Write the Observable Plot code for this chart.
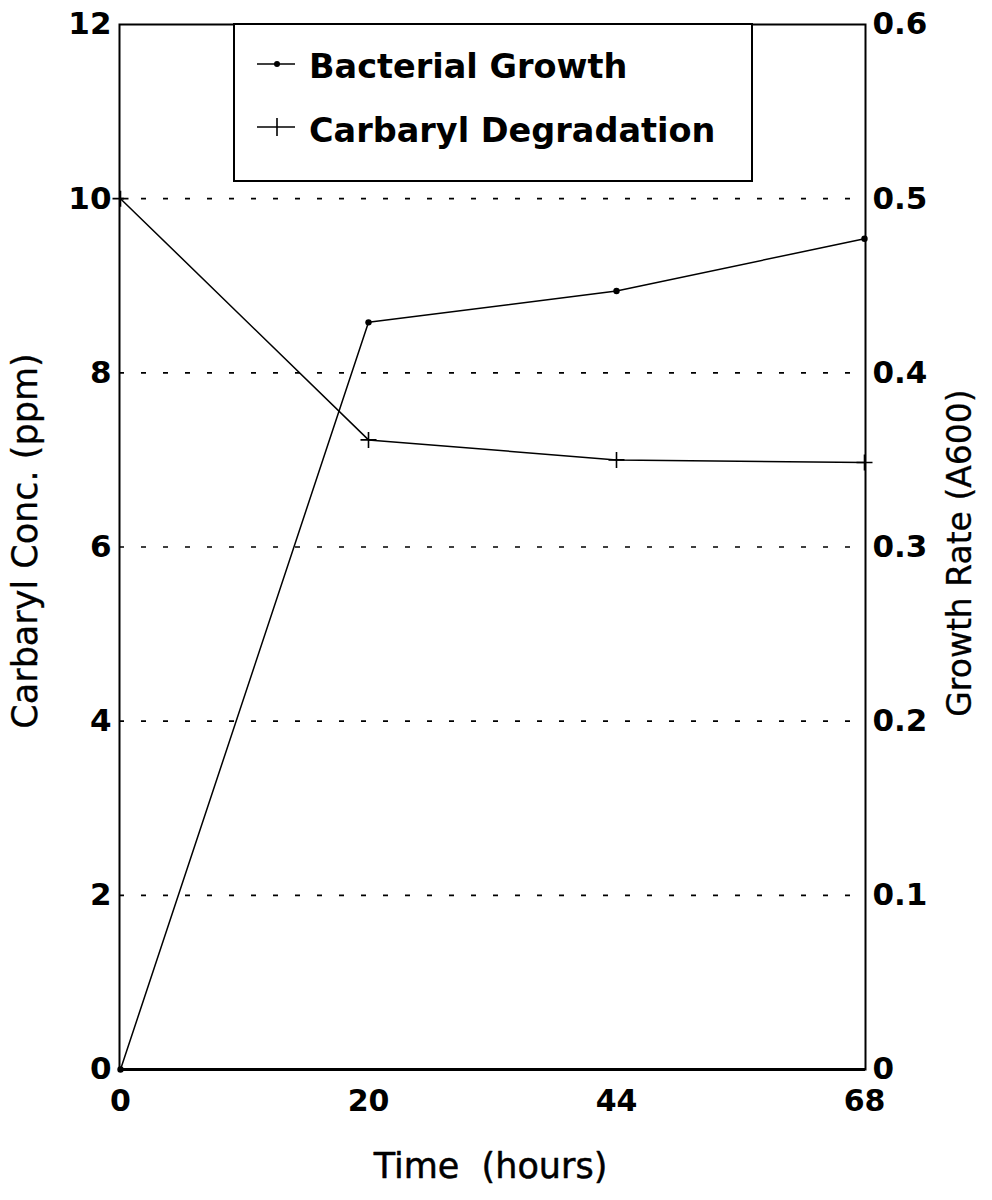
<!DOCTYPE html>
<html>
<head>
<meta charset="utf-8">
<script src="https://cdn.jsdelivr.net/npm/d3@7"></script>
<script src="https://cdn.jsdelivr.net/npm/@observablehq/plot@0.6"></script>
<style>
  html, body { margin: 0; padding: 0; background: #fff; }
  #chart { position: relative; width: 992px; height: 1200px; color: #000; }
  #legend {
    position: absolute; left: 233px; top: 23px; width: 520px; height: 159px;
    box-sizing: border-box; border: 2px solid #000; background: #fff;
  }
  #legend svg { display: block; }
</style>
</head>
<body>
<div id="chart"></div>
<script>
// Sampling times (hours) — drawn as four evenly spaced categories
const hours = ["0", "20", "44", "68"];
// Carbaryl concentration, ppm (left axis)
const carbarylConc = [10, 7.23, 7.0, 6.97];
// Bacterial growth, A600 (right axis)
const growthA600 = [0, 0.429, 0.447, 0.477];

// Axis ticks
const concTicks = [0, 2, 4, 6, 8, 10, 12];
const rateTickLabels = ["0", "0.1", "0.2", "0.3", "0.4", "0.5", "0.6"];
const gridLevels = [2, 4, 6, 8, 10];

// Series names
const seriesNames = ["Bacterial Growth", "Carbaryl Degradation"];

// The right axis spans 0–0.6 over the same height as 0–12 ppm
const rateToConc = 12 / 0.6;

const carbarylRows = hours.map((h, i) => ({hour: h, conc: carbarylConc[i]}));
const growthRows = hours.map((h, i) => ({hour: h, rate: growthA600[i]}));

// Open "+" marker drawn as two strokes
const plusMark = {
  draw(context, size) {
    const r = Math.sqrt(size / Math.PI);
    context.moveTo(-r, 0); context.lineTo(r, 0);
    context.moveTo(0, -r); context.lineTo(0, r);
  }
};

const tickFont = {fontSize: 31, fontWeight: "bold", fontFamily: "DejaVu Sans"};

const plot = Plot.plot({
  width: 992,
  height: 1200,
  marginLeft: 119,
  marginRight: 127,
  marginTop: 24,
  marginBottom: 131,
  style: {fontFamily: "DejaVu Sans", color: "#000", background: "#fff"},
  x: {type: "point", domain: hours, padding: 0},
  y: {domain: [0, 12]},
  marks: [
    Plot.ruleY(gridLevels, {stroke: "#000", strokeWidth: 1.6, strokeDasharray: "5,17"}),
    Plot.frame({stroke: "#000", strokeWidth: 2}),
    Plot.ruleY([0], {stroke: "#000", strokeWidth: 3}),
    Plot.axisY({ticks: concTicks, tickSize: 0, tickPadding: 8, label: null, ...tickFont}),
    Plot.axisY({
      anchor: "right", ticks: concTicks, tickSize: 0, tickPadding: 7, label: null,
      tickFormat: d => rateTickLabels[concTicks.indexOf(d)], ...tickFont
    }),
    Plot.axisX({tickSize: 0, tickPadding: 20, label: null, ...tickFont, fontSize: 30}),
    // Carbaryl degradation
    Plot.line(carbarylRows, {x: "hour", y: "conc", stroke: "#000", strokeWidth: 1.5}),
    Plot.dot(carbarylRows, {x: "hour", y: "conc", symbol: plusMark, r: 8, fill: "none", stroke: "#000", strokeWidth: 1.6}),
    // Bacterial growth, mapped onto the concentration scale
    Plot.line(growthRows, {x: "hour", y: d => d.rate * rateToConc, stroke: "#000", strokeWidth: 1.5}),
    Plot.dot(growthRows, {x: "hour", y: d => d.rate * rateToConc, r: 3.2, fill: "#000", stroke: "none"}),
    // Axis titles
    Plot.text(["Time  (hours)"], {
      frameAnchor: "bottom", lineAnchor: "bottom", dx: -2, dy: 108,
      fontSize: 35, fill: "#000", stroke: "#000", strokeWidth: 0.5
    }),
    Plot.text(["Carbaryl Conc. (ppm)"], {
      frameAnchor: "left", textAnchor: "middle", lineAnchor: "bottom", rotate: -90, dx: -83, dy: -6,
      fontSize: 35, fill: "#000", stroke: "#000", strokeWidth: 0.3
    }),
    Plot.text(["Growth Rate (A600)"], {
      frameAnchor: "right", textAnchor: "middle", lineAnchor: "top", rotate: -90, dx: 82, dy: 6,
      fontSize: 33, fill: "#000", stroke: "#000", strokeWidth: 0.3
    })
  ]
});

const chart = document.getElementById("chart");
chart.appendChild(plot);

// Legend box in the upper part of the plot area
const legend = document.createElement("div");
legend.id = "legend";
chart.appendChild(legend);

const lsvg = d3.select(legend).append("svg").attr("width", 516).attr("height", 155);
const rows = [
  {name: seriesNames[0], y: 39, base: 53, marker: "dot"},
  {name: seriesNames[1], y: 102, base: 117, marker: "plus"}
];
rows.forEach(row => {
  const g = lsvg.append("g");
  g.append("line").attr("x1", 22).attr("x2", 60).attr("y1", row.y).attr("y2", row.y)
    .attr("stroke", "#000").attr("stroke-width", 1.6);
  if (row.marker === "dot") {
    g.append("circle").attr("cx", 42).attr("cy", row.y).attr("r", 3).attr("fill", "#000");
  } else {
    g.append("line").attr("x1", 42).attr("x2", 42).attr("y1", row.y - 9).attr("y2", row.y + 9)
      .attr("stroke", "#000").attr("stroke-width", 1.6);
  }
  g.append("text").attr("x", 74).attr("y", row.base)
    .attr("font-family", "DejaVu Sans").attr("font-weight", "bold").attr("font-size", 33.5)
    .attr("fill", "#000").text(row.name);
});
</script>
</body>
</html>
